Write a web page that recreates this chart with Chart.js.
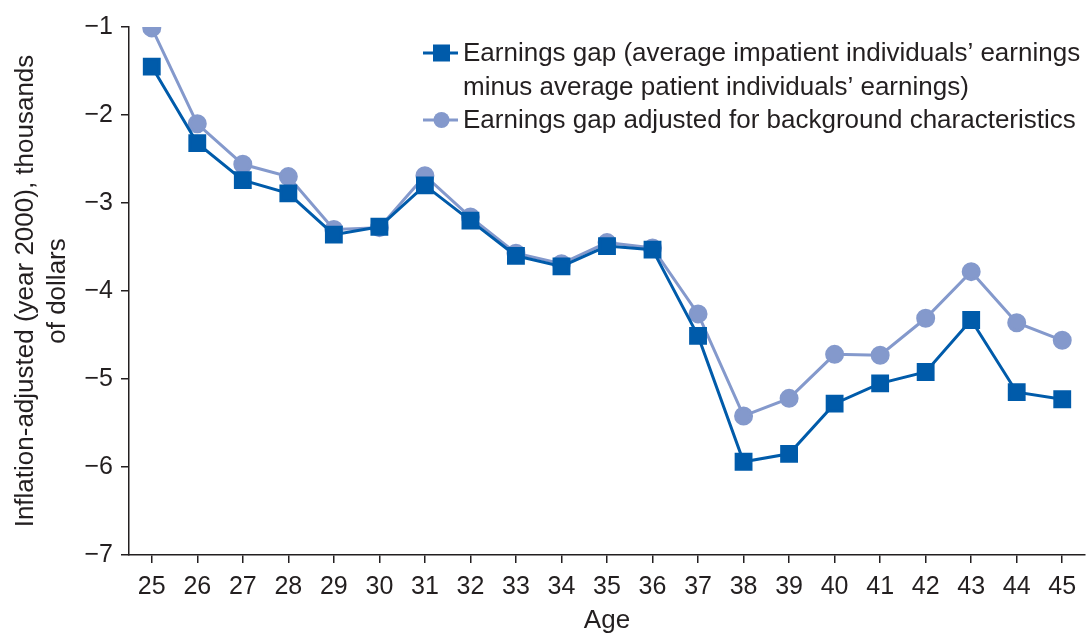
<!DOCTYPE html>
<html>
<head>
<meta charset="utf-8">
<script src="https://cdn.jsdelivr.net/npm/chart.js@4.4.1/dist/chart.umd.min.js"></script>
<style>
  html, body { margin: 0; padding: 0; background: #fff; }
  #wrap { width: 1087px; height: 634px; }
</style>
</head>
<body>
<div id="wrap"><canvas id="gapChart"></canvas></div>
<script>
// values, thousands of year-2000 dollars
const ages = ['25','26','27','28','29','30','31','32','33','34','35','36','37','38','39','40','41','42','43','44','45'];
const earningsGap = [-1.45,-2.32,-2.74,-2.89,-3.36,-3.27,-2.80,-3.20,-3.60,-3.72,-3.49,-3.53,-4.51,-5.94,-5.85,-5.28,-5.05,-4.92,-4.33,-5.15,-5.23];
const adjustedGap = [-1.01,-2.10,-2.56,-2.70,-3.30,-3.28,-2.69,-3.16,-3.57,-3.69,-3.45,-3.51,-4.26,-5.42,-5.22,-4.72,-4.73,-4.31,-3.78,-4.36,-4.56];
const legendText = [
  ['Earnings gap (average impatient individuals\u2019 earnings', 'minus average patient individuals\u2019 earnings)'],
  ['Earnings gap adjusted for background characteristics']
];
const yTitle = ['Inflation-adjusted (year 2000), thousands', 'of dollars'];

const FONT = '"Liberation Sans Narrow", "Liberation Sans", Arial, sans-serif';
const NUMFONT = '"Liberation Sans", Arial, sans-serif';
const INK = '#231f20';
const DARK = '#005baa';
const LIGHT = '#8499cc';

// legend drawn by hand so the first entry can wrap onto two lines
const legendPlugin = {
  id: 'wrappedLegend',
  afterDraw(chart) {
    const ctx = chart.ctx;
    const x0 = 423, x1 = 458, tx = 463;
    let y = 53;
    ctx.save();
    ctx.font = '26px ' + FONT;
    ctx.textBaseline = 'middle';
    chart.data.datasets.forEach((ds, i) => {
      ctx.strokeStyle = ds.borderColor;
      ctx.lineWidth = 3;
      ctx.beginPath();
      ctx.moveTo(x0, y);
      ctx.lineTo(x1, y);
      ctx.stroke();
      ctx.fillStyle = ds.backgroundColor;
      const mx = (x0 + x1) / 2 + 1;
      if (ds.pointStyle === 'rect') {
        ctx.fillRect(mx - 8.5, y - 8.5, 17, 17);
      } else {
        ctx.beginPath();
        ctx.arc(mx, y, 8, 0, Math.PI * 2);
        ctx.fill();
      }
      ctx.fillStyle = INK;
      legendText[i].forEach(line => {
        ctx.fillText(line, tx, y + 1);
        y += 33.5;
      });
    });
    ctx.restore();
  }
};

new Chart(document.getElementById('gapChart').getContext('2d'), {
  type: 'line',
  data: {
    labels: ages,
    datasets: [{
      label: legendText[0].join(' '),
      data: earningsGap,
      borderColor: DARK,
      backgroundColor: DARK,
      borderWidth: 3,
      pointStyle: 'rect',
      pointRadius: 10.5,
      pointHoverRadius: 10.5,
      tension: 0,
      fill: false
    }, {
      label: legendText[1][0],
      data: adjustedGap,
      borderColor: LIGHT,
      backgroundColor: LIGHT,
      borderWidth: 3,
      pointStyle: 'circle',
      pointRadius: 8,
      pointHoverRadius: 8,
      tension: 0,
      fill: false
    }]
  },
  options: {
    responsive: true,
    maintainAspectRatio: false,
    animation: false,
    layout: { autoPadding: false, padding: { top: 27, right: 2, left: 0, bottom: 0 } },
    plugins: {
      legend: { display: false },
      tooltip: { enabled: false }
    },
    scales: {
      x: {
        offset: true,
        grid: { drawOnChartArea: false, drawTicks: true, tickLength: 8, color: INK, lineWidth: 1.5 },
        border: { color: INK, width: 1.5 },
        ticks: { color: INK, font: { family: NUMFONT, size: 25 }, padding: 9, maxRotation: 0 },
        title: { display: true, text: 'Age', color: INK, font: { family: FONT, size: 26, lineHeight: 1.05 }, padding: { top: 0, bottom: 0 } },
        afterFit: s => { s.height = 79; }
      },
      y: {
        min: -7,
        max: -1,
        grid: { drawOnChartArea: false, drawTicks: true, tickLength: 8, color: INK, lineWidth: 1.5 },
        border: { color: INK, width: 1.5 },
        ticks: {
          stepSize: 1,
          color: INK,
          font: { family: NUMFONT, size: 25 },
          padding: 8,
          callback: v => String(v).replace('-', '\u2212')
        },
        title: { display: true, text: yTitle, color: INK, font: { family: FONT, size: 26, lineHeight: 1.23 }, padding: { top: 10, bottom: 0 } },
        afterFit: s => { s.width = 129; }
      }
    }
  },
  plugins: [legendPlugin]
});
</script>
</body>
</html>
